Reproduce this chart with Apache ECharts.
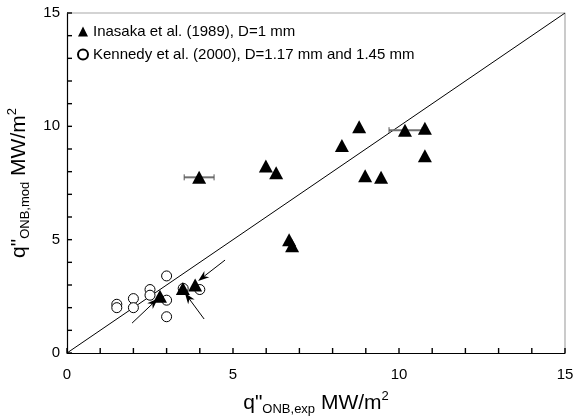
<!DOCTYPE html>
<html>
<head>
<meta charset="utf-8">
<script src="https://cdn.jsdelivr.net/npm/echarts@6/dist/echarts.min.js"></script>
<style>
  html, body { margin: 0; padding: 0; background: #fff; }
  #chart { width: 580px; height: 420px; }
</style>
</head>
<body>
<div id="chart"></div>
<script>
// Inasaka et al. (1989): experimental vs. model ONB heat flux, MW/m2
const inasakaX = [3.98, 5.99, 6.30, 8.28, 8.80, 10.18, 10.78, 10.78, 8.98, 9.46, 6.69, 6.78, 2.80, 3.49, 3.86];
const inasakaY = [7.75, 8.25, 7.95, 9.15, 9.98, 9.83, 9.91, 8.70, 7.82, 7.75, 5.00, 4.73, 2.50, 2.85, 3.00];

// Kennedy et al. (2000)
const kennedyX = [1.5, 1.5, 2.0, 2.0, 2.5, 2.5, 3.0, 3.0, 3.0, 3.5, 4.0];
const kennedyY = [2.15, 2.0, 2.4, 2.0, 2.8, 2.55, 3.4, 2.33, 1.6, 2.85, 2.8];

// horizontal error bars: [x, y, xLow, xHigh]
const errorBars = [
  [3.98, 7.75, 3.53, 4.43],
  [10.18, 9.83, 9.70, 10.70]
];

// annotation arrows: [x0, y0, x1, y1] (tail -> head)
const arrows = [
  [1.96, 1.32, 2.74, 2.40],
  [4.13, 1.50, 3.55, 2.65],
  [4.76, 4.10, 3.95, 3.18]
];

// 1:1 reference line
const diagonal = [[0, 0], [15, 15]];

// tick positions shared by both axes (unit steps, labelled every 5)
const tickValues = [0, 1, 2, 3, 4, 5, 6, 7, 8, 9, 10, 11, 12, 13, 14, 15];
const AXIS_MAX = 15;

const seriesNames = ['Inasaka et al. (1989), D=1 mm', 'Kennedy et al. (2000), D=1.17 mm and 1.45 mm'];

const FONT = '"Liberation Sans", Arial, sans-serif';

const zip = (xs, ys) => xs.map((x, i) => [x, ys[i]]);

const chart = echarts.init(document.getElementById('chart'), null, { renderer: 'canvas' });

const titleRich = {
  q: { fontSize: 21, fontFamily: FONT, color: '#000', lineHeight: 26 },
  sub: { fontSize: 13, fontFamily: FONT, color: '#000', verticalAlign: 'bottom', lineHeight: 22 },
  sup: { fontSize: 13, fontFamily: FONT, color: '#000', verticalAlign: 'top', lineHeight: 22 }
};

const axisCommon = {
  type: 'value',
  min: 0,
  max: AXIS_MAX,
  interval: 5,
  axisLine: { show: true, onZero: false, lineStyle: { color: '#000', width: 1.2 } },
  axisTick: { show: false },
  splitLine: { show: false },
  nameLocation: 'middle',
  nameTextStyle: { rich: titleRich }
};

// short tick marks drawn as thin rectangle symbols sitting on the axes
const tickSeries = (data, size, offset) => ({
  type: 'scatter',
  data,
  symbol: 'rect',
  symbolSize: size,
  symbolOffset: offset,
  silent: true,
  clip: false,
  itemStyle: { color: '#000', opacity: 1 },
  z: 6
});

chart.setOption({
  animation: false,
  backgroundColor: '#fff',
  grid: {
    left: 67, right: 15, top: 13, bottom: 67,
    outerBoundsMode: 'none',
    containLabel: false,
    show: false
  },
  legend: {
    orient: 'vertical',
    left: 72,
    top: 19,
    itemGap: 8,
    itemWidth: 10,
    itemHeight: 10,
    data: seriesNames,
    textStyle: { fontSize: 15, fontFamily: FONT, color: '#000' }
  },
  xAxis: Object.assign({}, axisCommon, {
    name: '{q|q"}{sub|ONB,exp}{q| MW/m}{sup|2}',
    nameGap: 37,
    axisLabel: { margin: 14, fontSize: 15, fontFamily: FONT, color: '#000' }
  }),
  yAxis: Object.assign({}, axisCommon, {
    name: '{q|q"}{sub|ONB,mod}{q| MW/m}{sup|2}',
    nameGap: 35,
    axisLabel: { margin: 7, fontSize: 15, fontFamily: FONT, color: '#000' }
  }),
  series: [
    {
      // grey top and right frame edges
      type: 'line',
      data: [[0, AXIS_MAX], [AXIS_MAX, AXIS_MAX], [AXIS_MAX, 0]],
      symbol: 'none',
      silent: true,
      clip: false,
      lineStyle: { color: '#a8a8a8', width: 1.2 },
      z: 0
    },
    {
      type: 'line',
      data: diagonal,
      symbol: 'none',
      silent: true,
      lineStyle: { color: '#000', width: 1 },
      z: 1
    },
    {
      type: 'custom',
      data: errorBars,
      silent: true,
      z: 2,
      renderItem: (params, api) => {
        const y = api.value(1);
        const lo = api.coord([api.value(2), y]);
        const hi = api.coord([api.value(3), y]);
        const style = { stroke: '#707070', lineWidth: 2 };
        return {
          type: 'group',
          children: [
            { type: 'line', shape: { x1: lo[0], y1: lo[1], x2: hi[0], y2: hi[1] }, style },
            { type: 'line', shape: { x1: lo[0], y1: lo[1] - 3, x2: lo[0], y2: lo[1] + 3 }, style: { stroke: '#555', lineWidth: 1 } },
            { type: 'line', shape: { x1: hi[0], y1: hi[1] - 3, x2: hi[0], y2: hi[1] + 3 }, style: { stroke: '#555', lineWidth: 1 } }
          ]
        };
      }
    },
    {
      name: seriesNames[1],
      type: 'scatter',
      data: zip(kennedyX, kennedyY),
      symbol: 'circle',
      symbolSize: 10,
      itemStyle: { color: '#fff', borderColor: '#000', borderWidth: 1, opacity: 1 },
      z: 3
    },
    {
      name: seriesNames[0],
      type: 'scatter',
      data: zip(inasakaX, inasakaY),
      symbol: 'triangle',
      symbolSize: [14, 13],
      itemStyle: { color: '#000', opacity: 1 },
      z: 4
    },
    {
      // arrows pointing at selected data points
      type: 'custom',
      data: arrows,
      silent: true,
      z: 5,
      renderItem: (params, api) => {
        const p0 = api.coord([api.value(0), api.value(1)]);
        const p1 = api.coord([api.value(2), api.value(3)]);
        const dx = p1[0] - p0[0], dy = p1[1] - p0[1];
        const len = Math.sqrt(dx * dx + dy * dy);
        const ux = dx / len, uy = dy / len;
        const hl = 11, hw = 4;
        const bx = p1[0] - ux * hl, by = p1[1] - uy * hl;
        const mx = p1[0] - ux * hl * 0.7, my = p1[1] - uy * hl * 0.7;
        return {
          type: 'group',
          children: [
            { type: 'line', shape: { x1: p0[0], y1: p0[1], x2: mx, y2: my }, style: { stroke: '#000', lineWidth: 1 } },
            {
              type: 'polygon',
              shape: { points: [
                [p1[0], p1[1]],
                [bx - uy * hw, by + ux * hw],
                [mx, my],
                [bx + uy * hw, by - ux * hw]
              ] },
              style: { fill: '#000' }
            }
          ]
        };
      }
    },
    // x-axis ticks pointing up, y-axis ticks pointing right
    tickSeries(tickValues.map(v => [v, 0]), [1.4, 5], [0, -2.5]),
    tickSeries(tickValues.map(v => [0, v]), [5, 1.4], [2.5, 0])
  ]
});
</script>
</body>
</html>
